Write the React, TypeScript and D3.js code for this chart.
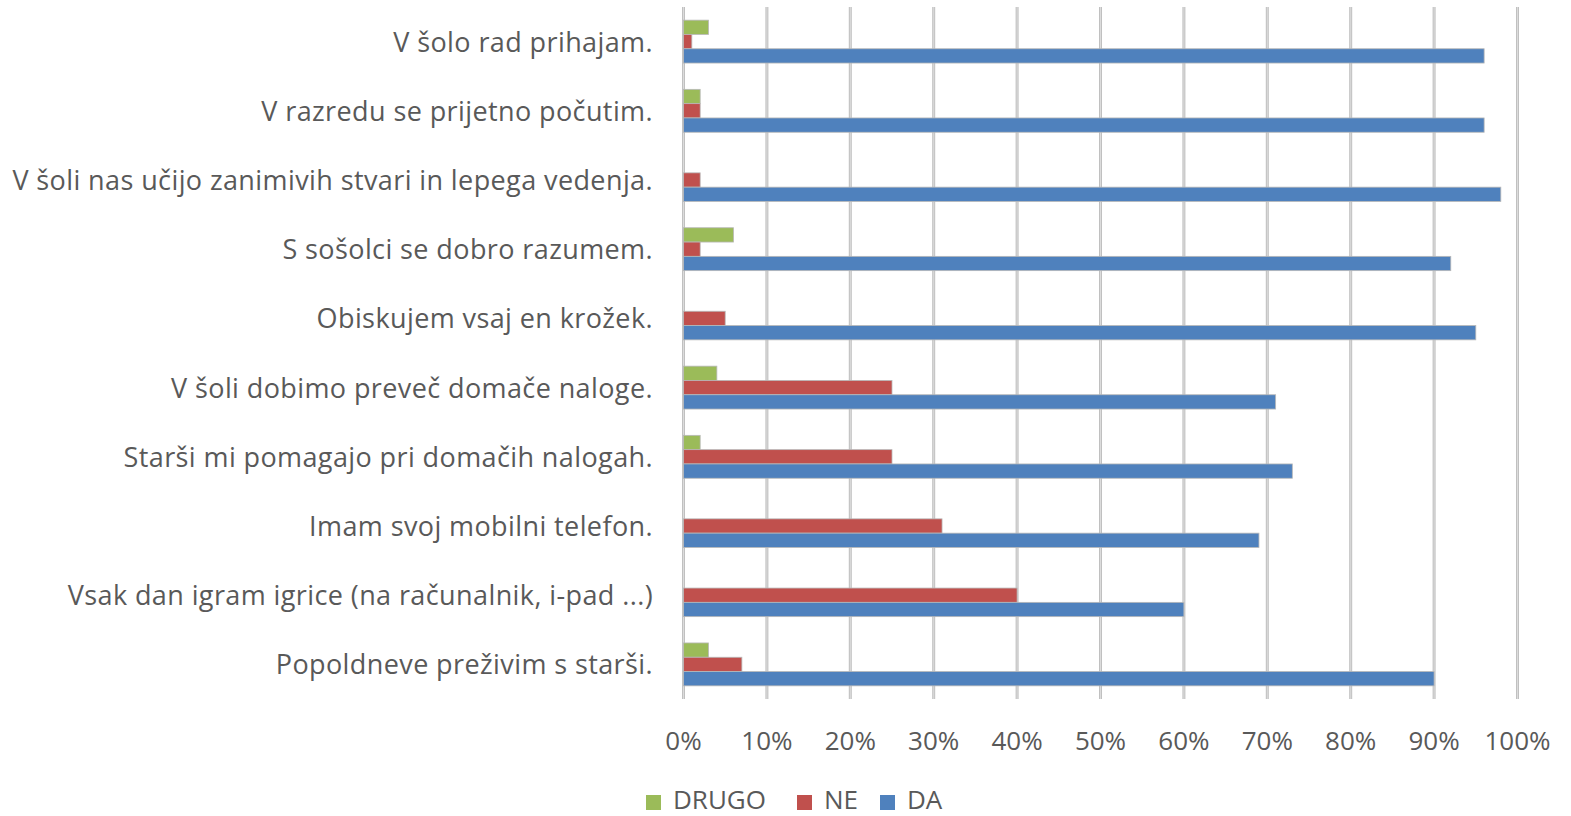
import React from "react";
import * as d3 from "d3";

const WIDTH = 1571;
const HEIGHT = 816;
const PLOT = { left: 683.5, right: 1517.5, top: 7, bottom: 699 };
const FONT = "'Open Sans', sans-serif";
const TEXT_COLOR = "#595959";

const categories = [
  "V šolo rad prihajam.",
  "V razredu se prijetno počutim.",
  "V šoli nas učijo zanimivih stvari in lepega vedenja.",
  "S sošolci se dobro razumem.",
  "Obiskujem vsaj en krožek.",
  "V šoli dobimo preveč domače naloge.",
  "Starši mi pomagajo pri domačih nalogah.",
  "Imam svoj mobilni telefon.",
  "Vsak dan igram igrice (na računalnik, i-pad ...)",
  "Popoldneve preživim s starši.",
];

const seriesNames = ["DRUGO", "NE", "DA"];
const drugo = [3, 2, 0, 6, 0, 4, 2, 0, 0, 3];
const ne = [1, 2, 2, 2, 5, 25, 25, 31, 40, 7];
const da = [96, 96, 98, 92, 95, 71, 73, 69, 60, 90];
const seriesValues = [drugo, ne, da];
const seriesColors = ["#9BBB59", "#C0504D", "#4F81BD"];

const ticks = [0, 10, 20, 30, 40, 50, 60, 70, 80, 90, 100];

// legend x positions (square left edge) for each entry
const legendX = [646, 797, 880];

export default function App() {
  const x = d3.scaleLinear().domain([0, 100]).range([PLOT.left, PLOT.right]);

  const y = d3
    .scaleBand()
    .domain(categories)
    .range([PLOT.top, PLOT.bottom])
    .paddingInner(0.38)
    .paddingOuter(0.19);

  const ySub = d3
    .scaleBand()
    .domain(seriesNames)
    .range([0, y.bandwidth()]);

  return (
    <svg
      width={WIDTH}
      height={HEIGHT}
      style={{ position: "absolute", left: 0, top: 0, background: "#fff" }}
    >
      {/* gridlines */}
      {ticks.map((t) => (
        <g key={t}>
          <line
            x1={x(t)}
            x2={x(t)}
            y1={PLOT.top}
            y2={PLOT.bottom}
            stroke="#c0c0c0"
            strokeWidth={3}
          />
          <line
            x1={x(t)}
            x2={x(t)}
            y1={PLOT.top}
            y2={PLOT.bottom}
            stroke="#dcdcdc"
            strokeWidth={1}
          />
        </g>
      ))}

      {/* bars */}
      {categories.map((cat, i) => (
        <g key={cat} transform={`translate(0,${y(cat)})`}>
          {seriesNames.map((s, j) => {
            const v = seriesValues[j][i];
            if (!v) return null;
            return (
              <rect
                key={s}
                x={x(0)}
                y={ySub(s)}
                width={x(v) - x(0)}
                height={ySub.bandwidth()}
                fill={seriesColors[j]}
                stroke="#b8b8b8"
                strokeWidth={0.8}
              />
            );
          })}
        </g>
      ))}

      {/* category labels */}
      {categories.map((cat) => (
        <text
          key={cat}
          x={653}
          y={(y(cat) ?? 0) + y.bandwidth() / 2 + 10}
          textAnchor="end"
          fontFamily={FONT}
          fontSize={27}
          letterSpacing={0.4}
          fill={TEXT_COLOR}
        >
          {cat}
        </text>
      ))}

      {/* tick labels */}
      {ticks.map((t) => (
        <text
          key={t}
          x={x(t)}
          y={750}
          textAnchor="middle"
          fontFamily={FONT}
          fontSize={26}
          fill={TEXT_COLOR}
        >
          {t}%
        </text>
      ))}

      {/* legend */}
      {seriesNames.map((s, j) => (
        <g key={s} transform={`translate(${legendX[j]},0)`}>
          <rect x={0} y={795} width={15} height={15} fill={seriesColors[j]} />
          <text
            x={27}
            y={809}
            fontFamily={FONT}
            fontSize={26}
            fill={TEXT_COLOR}
          >
            {s}
          </text>
        </g>
      ))}
    </svg>
  );
}
